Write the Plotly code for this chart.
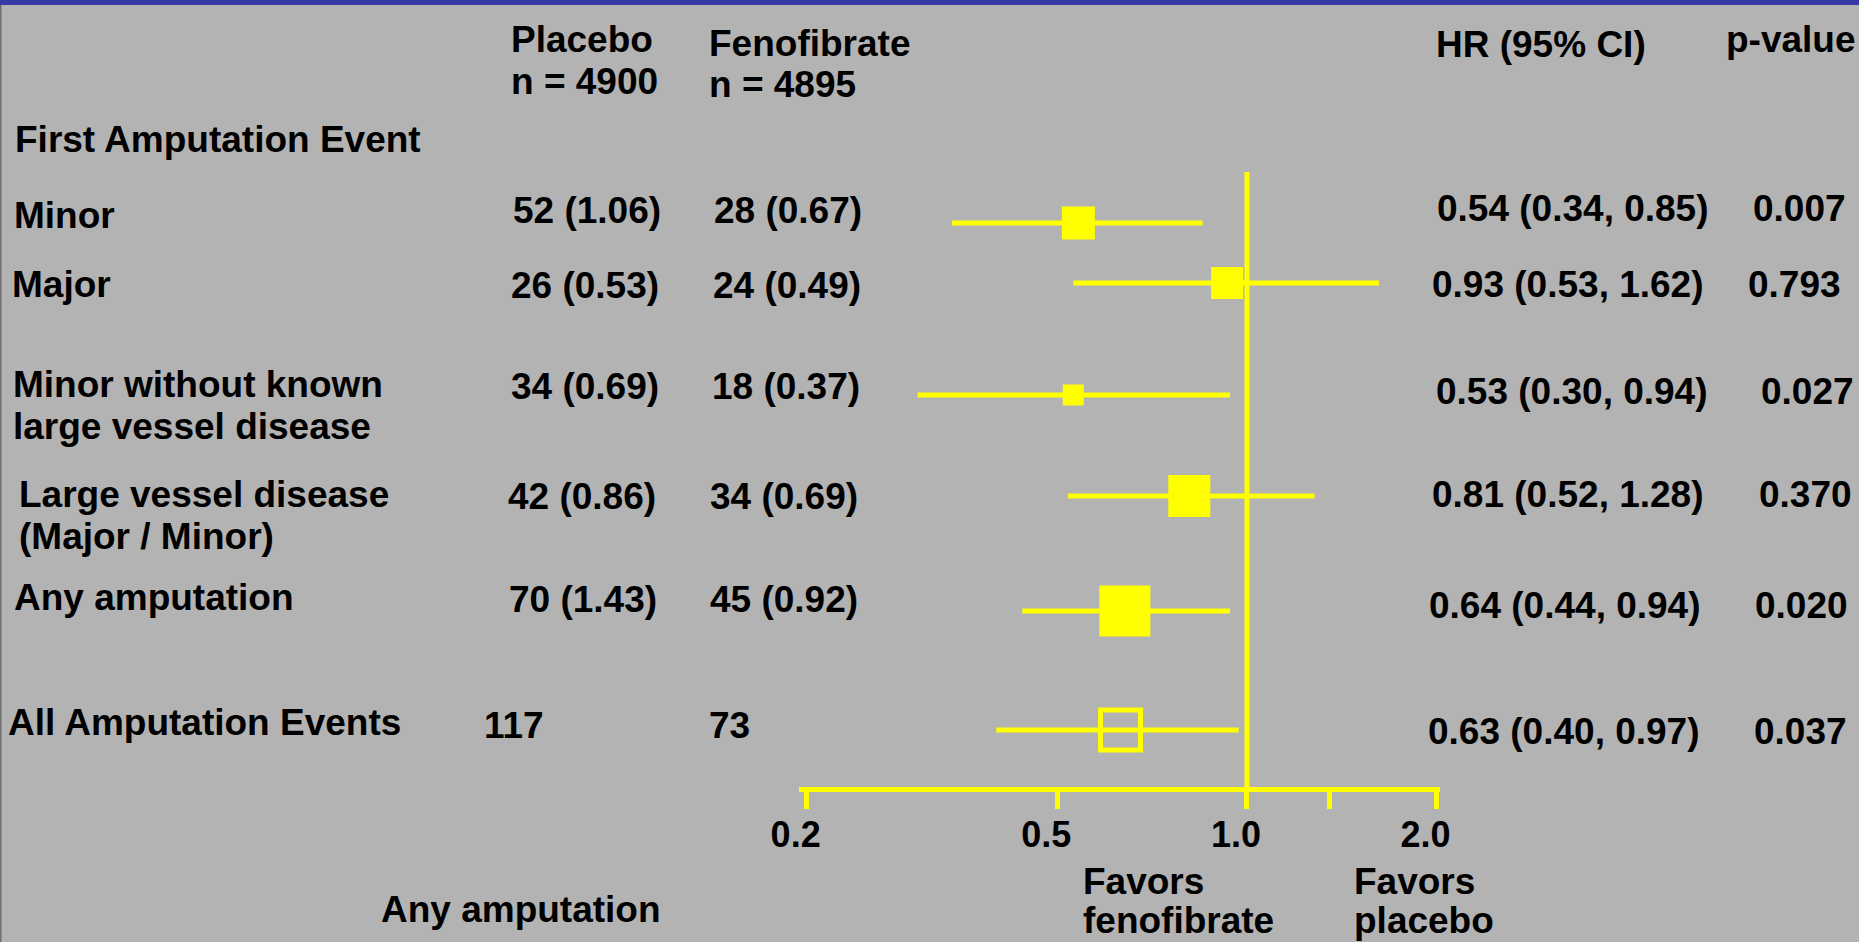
import math
import plotly.graph_objects as go

# ---------------- data ----------------
label_lines = [["Minor"], ["Major"], ["Minor without known", "large vessel disease"],
               ["Large vessel disease", "(Major / Minor)"], ["Any amputation"], ["All Amputation Events"]]
placebo_txt = ["52 (1.06)", "26 (0.53)", "34 (0.69)", "42 (0.86)", "70 (1.43)", "117"]
feno_txt = ["28 (0.67)", "24 (0.49)", "18 (0.37)", "34 (0.69)", "45 (0.92)", "73"]
hr = [0.54, 0.93, 0.53, 0.81, 0.64, 0.63]
ci_lo = [0.34, 0.53, 0.30, 0.52, 0.44, 0.40]
ci_hi = [0.85, 1.62, 0.94, 1.28, 0.94, 0.97]
p_values = ["0.007", "0.793", "0.027", "0.370", "0.020", "0.037"]
is_overall = [False, False, False, False, False, True]
weight_size = [33, 32, 21, 42, 51, 40]
tick_vals = [0.2, 0.5, 1.0, 1.35, 2.0]
tick_text = ["0.2", "0.5", "1.0", "", "2.0"]

# ---------------- layout geometry (pixels) ----------------
W, H = 1859, 942
PL, PR = 799, 1440          # plot area left/right
PT, PB = 0, 787             # plot area top/bottom
row_y = [223, 283, 395, 496, 611, 730]
label_x = [12, 10, 11, 17, 12, 6]
label_base = [228, 297, 397, 507, 610, 735]
plac_x = [511, 509, 509, 506, 507, 482]
feno_x = [712, 711, 710, 708, 708, 707]
val_base = [223, 298, 399, 509, 612, 738]
hr_x = [1435, 1430, 1434, 1430, 1427, 1426]
p_x = [1751, 1746, 1759, 1757, 1753, 1752]
hr_base = [222, 297, 404, 507, 618, 744]

BG = "#b3b3b3"
YEL = "#ffff00"
FONT = dict(family="Liberation Sans, Arial, sans-serif", size=37, color="black", weight="bold")


def PX(x):
    return (x - PL) / (PR - PL)


def PY(y):
    return (PB - y) / (PB - PT)


annots = []


def txt(s, x, base, anchor="left"):
    annots.append(dict(text=s, x=PX(x), y=PY(base - 13), xref="paper", yref="paper",
                       xanchor=anchor, yanchor="middle", showarrow=False, font=FONT))


fig = go.Figure()

# CI lines
xs, ys = [], []
for lo, hi, y in zip(ci_lo, ci_hi, row_y):
    xs += [lo, hi, None]
    ys += [y, y, None]
fig.add_trace(go.Scatter(x=xs, y=ys, mode="lines", line=dict(color=YEL, width=5),
                         hoverinfo="skip", showlegend=False))

# filled boxes
fx = [h for h, o in zip(hr, is_overall) if not o]
fy = [y for y, o in zip(row_y, is_overall) if not o]
fs = [s for s, o in zip(weight_size, is_overall) if not o]
fig.add_trace(go.Scatter(x=fx, y=fy, mode="markers",
                         marker=dict(symbol="square", size=fs, color=YEL, opacity=1,
                                     line=dict(width=0)),
                         showlegend=False))
# overall (open) box
ox = [h for h, o in zip(hr, is_overall) if o]
oy = [y for y, o in zip(row_y, is_overall) if o]
os_ = [s for s, o in zip(weight_size, is_overall) if o]
fig.add_trace(go.Scatter(x=ox, y=oy, mode="markers",
                         marker=dict(symbol="square-open", size=os_, color=YEL, opacity=1,
                                     line=dict(width=5, color=YEL)),
                         showlegend=False))

# headers
txt("Placebo", 509, 53)
txt("n = 4900", 509, 95)
txt("Fenofibrate", 707, 56)
txt("n = 4895", 707, 98)
txt("HR (95% CI)", 1434, 58)
txt("p-value", 1724, 53)
txt("First Amputation Event", 13, 152)

for i in range(len(hr)):
    for k, line in enumerate(label_lines[i]):
        txt(line, label_x[i], label_base[i] + 42 * k)
    txt(placebo_txt[i], plac_x[i], val_base[i])
    txt(feno_txt[i], feno_x[i], val_base[i])
    txt(f"{hr[i]:.2f} ({ci_lo[i]:.2f}, {ci_hi[i]:.2f})", hr_x[i], hr_base[i])
    txt(p_values[i], p_x[i], hr_base[i])

txt("Favors", 1081, 894)
txt("fenofibrate", 1081, 933)
txt("Favors", 1352, 894)
txt("placebo", 1352, 933)
txt("Any amputation", 379, 922)

shapes = [
    # null line at HR = 1
    dict(type="line", xref="x", yref="y", x0=1, x1=1, y0=172, y1=PB, line=dict(color=YEL, width=5)),
    # top blue band
    dict(type="rect", xref="paper", yref="paper", x0=PX(-5), x1=PX(W + 5), y0=PY(5), y1=PY(-5),
         fillcolor="#3838a6", line=dict(width=0), layer="below"),
    # left frame edge
    dict(type="rect", xref="paper", yref="paper", x0=PX(-2), x1=PX(1.5), y0=PY(H + 5), y1=PY(5),
         fillcolor="#6f6f6f", line=dict(width=0), layer="below"),
]

fig.update_layout(
    width=W, height=H,
    margin=dict(l=PL, r=W - PR, t=PT, b=H - PB, pad=0),
    paper_bgcolor=BG, plot_bgcolor=BG,
    annotations=annots, shapes=shapes, showlegend=False,
    xaxis=dict(type="log", range=[math.log10(0.1945), math.log10(2.025)],
               tickvals=tick_vals, ticktext=tick_text,
               showgrid=False, zeroline=False,
               showline=True, linecolor=YEL, linewidth=5,
               ticks="outside", ticklen=17, tickwidth=5, tickcolor=YEL,
               tickfont=dict(family="Liberation Sans, Arial, sans-serif", size=36, color="black", weight="bold"),
               ticklabelshift=-11, ticklabelstandoff=-5),
    yaxis=dict(range=[PB, PT], visible=False, showgrid=False, zeroline=False),
)

fig.write_html("out.html", config={"displayModeBar": False},
               post_script="document.body.style.margin='0';document.body.style.overflow='hidden';")
